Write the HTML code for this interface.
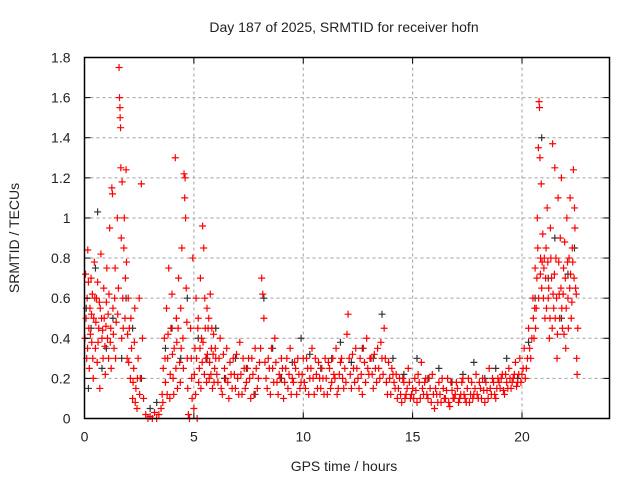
<!DOCTYPE html>
<html><head><meta charset="utf-8"><style>
body{margin:0;background:#fff}
svg text{font-family:"Liberation Sans",sans-serif;font-size:14px;fill:#222}
</style></head><body>
<svg id="chart" width="640" height="480" xmlns="http://www.w3.org/2000/svg">
<rect width="640" height="480" fill="#fff"/>
<g id="grid"></g>
<g id="black"></g>
<g id="red"></g>
<rect x="84.5" y="57.5" width="525" height="361" fill="none" stroke="#000" stroke-width="1.5"/>
<g id="ticks"></g>
<text x="344" y="32" text-anchor="middle">Day 187 of 2025, SRMTID for receiver hofn</text>
<text x="344" y="471" text-anchor="middle">GPS time / hours</text>
<text transform="translate(19,238) rotate(-90)" text-anchor="middle">SRMTID / TECUs</text>
</svg>
<script>
const xTicks=[0,5,10,15,20];
const yTicks=[0,0.2,0.4,0.6,0.8,1,1.2,1.4,1.6,1.8];
const yTickLabels=["0","0.2","0.4","0.6","0.8","1","1.2","1.4","1.6","1.8"];
const redPoints=[
[0.05,0.72],[0.1,0.3],[0.12,0.6],[0.15,0.84],[0.2,0.45],[0.22,0.25],[0.25,0.55],[0.3,0.7],[0.33,0.38],[0.36,0.62],[0.4,0.2],[0.42,0.5],[0.45,0.78],[0.5,0.35],[0.55,0.6],[0.58,0.28],[0.6,0.68],[0.65,0.45],[0.7,0.15],[0.72,0.55],[0.75,0.82],[0.8,0.4],[0.85,0.3],[0.88,0.65],[0.9,0.5],[0.95,0.22],[1.0,0.58],[1.02,0.75],[1.05,0.4],[1.1,0.3],[1.12,0.62],[1.15,0.95],[1.2,0.45],[1.25,1.15],[1.28,1.12],[1.3,0.55],[1.35,0.35],[1.4,0.75],[1.45,0.48],[1.5,1.0],[1.55,0.65],[1.58,1.75],[1.6,1.6],[1.62,1.55],[1.63,1.5],[1.65,1.45],[1.66,1.25],[1.68,0.9],[1.7,0.4],[1.72,1.18],[1.75,0.6],[1.8,0.85],[1.82,1.0],[1.85,0.5],[1.9,1.24],[1.92,0.78],[1.95,0.3],[2.0,0.6],[2.05,0.45],[2.1,0.2],[2.15,0.35],[2.2,0.1],[2.25,0.25],[2.3,0.55],[2.35,0.15],[2.4,0.05],[2.45,0.3],[2.5,0.6],[2.55,0.2],[2.6,1.17],[2.65,0.4],[2.7,0.1],[2.8,0.02],[2.9,0.0],[3.0,0.01],[3.1,0.0],[3.2,0.03],[3.3,0.0],[3.4,0.02],[3.5,0.05],[3.55,0.12],[3.6,0.25],[3.65,0.4],[3.7,0.18],[3.75,0.55],[3.8,0.3],[3.85,0.75],[3.9,0.1],[3.95,0.45],[4.0,0.62],[4.05,0.2],[4.1,0.35],[4.15,1.3],[4.2,0.5],[4.25,0.15],[4.3,0.7],[4.35,0.28],[4.4,0.55],[4.45,0.85],[4.5,0.4],[4.55,1.22],[4.58,1.1],[4.6,1.2],[4.62,1.0],[4.65,0.65],[4.7,0.3],[4.75,0.02],[4.8,0.0],[4.85,0.45],[4.9,0.2],[4.95,0.8],[5.0,0.05],[5.05,0.35],[5.1,0.6],[5.15,0.0],[5.2,0.5],[5.25,0.25],[5.3,0.7],[5.35,0.4],[5.4,0.96],[5.45,0.85],[5.5,0.6],[5.55,0.3],[5.6,0.55],[5.65,0.45],[5.7,0.2],[5.75,0.62],[5.8,0.35],[5.85,0.15],[5.9,0.42],[5.95,0.25],[6.0,0.3],[6.1,0.18],[6.2,0.4],[6.3,0.12],[6.4,0.25],[6.5,0.35],[6.6,0.1],[6.7,0.22],[6.8,0.3],[6.9,0.15],[7.0,0.2],[7.1,0.38],[7.2,0.12],[7.3,0.25],[7.4,0.18],[7.5,0.3],[7.6,0.1],[7.7,0.22],[7.8,0.35],[7.9,0.15],[8.0,0.28],[8.1,0.7],[8.15,0.62],[8.2,0.5],[8.3,0.2],[8.4,0.3],[8.5,0.12],[8.6,0.25],[8.7,0.4],[8.8,0.18],[8.9,0.22],[9.0,0.3],[9.1,0.1],[9.2,0.25],[9.3,0.15],[9.4,0.35],[9.5,0.2],[9.6,0.28],[9.7,0.12],[9.8,0.22],[9.9,0.18],[10.0,0.3],[10.1,0.15],[10.2,0.25],[10.3,0.2],[10.4,0.35],[10.5,0.12],[10.6,0.22],[10.7,0.28],[10.8,0.15],[10.9,0.2],[11.0,0.3],[11.1,0.12],[11.2,0.25],[11.3,0.18],[11.4,0.22],[11.5,0.35],[11.6,0.15],[11.7,0.28],[11.8,0.2],[11.9,0.25],[12.0,0.42],[12.05,0.52],[12.1,0.3],[12.2,0.15],[12.3,0.25],[12.4,0.35],[12.5,0.2],[12.6,0.3],[12.7,0.12],[12.8,0.28],[12.9,0.4],[13.0,0.22],[13.1,0.3],[13.2,0.15],[13.3,0.25],[13.4,0.35],[13.5,0.2],[13.6,0.3],[13.7,0.45],[13.8,0.18],[13.9,0.28],[14.0,0.12],[14.1,0.22],[14.2,0.15],[14.3,0.1],[14.4,0.2],[14.5,0.08],[14.6,0.18],[14.7,0.12],[14.8,0.25],[14.9,0.1],[15.0,0.15],[15.1,0.2],[15.2,0.08],[15.3,0.18],[15.4,0.28],[15.5,0.12],[15.6,0.2],[15.7,0.1],[15.8,0.15],[15.9,0.22],[16.0,0.05],[16.1,0.12],[16.2,0.18],[16.3,0.08],[16.4,0.15],[16.5,0.1],[16.6,0.2],[16.7,0.06],[16.8,0.14],[16.9,0.1],[17.0,0.18],[17.1,0.08],[17.2,0.12],[17.3,0.2],[17.4,0.1],[17.5,0.15],[17.6,0.08],[17.7,0.18],[17.8,0.12],[17.9,0.22],[18.0,0.1],[18.1,0.15],[18.2,0.2],[18.3,0.08],[18.4,0.14],[18.5,0.25],[18.6,0.12],[18.7,0.18],[18.8,0.1],[18.9,0.2],[19.0,0.15],[19.1,0.22],[19.2,0.12],[19.3,0.18],[19.4,0.25],[19.5,0.15],[19.6,0.2],[19.7,0.28],[19.8,0.18],[19.9,0.3],[20.0,0.22],[20.1,0.35],[20.2,0.25],[20.3,0.45],[20.4,0.3],[20.5,0.6],[20.55,0.4],[20.6,0.75],[20.65,0.55],[20.7,1.0],[20.72,0.85],[20.75,1.35],[20.78,1.58],[20.8,1.55],[20.82,1.3],[20.85,0.8],[20.88,1.17],[20.9,0.65],[20.95,0.92],[21.0,0.75],[21.05,0.5],[21.1,0.85],[21.15,1.05],[21.2,0.6],[21.25,0.4],[21.3,0.95],[21.35,0.7],[21.4,1.37],[21.45,0.55],[21.5,1.25],[21.55,0.8],[21.6,0.3],[21.65,1.1],[21.7,0.62],[21.75,0.9],[21.8,1.2],[21.85,0.45],[21.9,0.75],[21.95,0.88],[22.0,0.35],[22.05,1.0],[22.1,0.6],[22.15,0.8],[22.2,1.1],[22.25,0.5],[22.3,0.85],[22.35,1.24],[22.4,1.05],[22.42,0.95],[22.45,0.65],[22.5,0.3],[22.55,0.45]
];
const redPoints2=[
[0.02,0.4],[0.07,0.5],[0.14,0.35],[0.18,0.68],[0.27,0.42],[0.32,0.52],[0.38,0.3],[0.47,0.6],[0.52,0.48],[0.62,0.38],[0.68,0.58],[0.78,0.5],[0.83,0.44],[0.93,0.36],[0.98,0.46],[1.08,0.52],[1.18,0.38],[1.22,0.25],[1.32,0.42],[1.38,0.6],[1.42,0.3],[1.52,0.52],[1.77,0.45],[1.87,0.7],[1.97,0.42],[2.02,0.28],[2.12,0.5],[2.22,0.18],[2.28,0.38],[2.32,0.08],[2.42,0.2],[2.52,0.12],[3.58,0.08],[3.68,0.3],[3.78,0.12],[3.82,0.42],[3.92,0.22],[4.02,0.32],[4.08,0.12],[4.18,0.25],[4.22,0.38],[4.28,0.45],[4.38,0.18],[4.42,0.35],[4.52,0.25],[4.68,0.48],[4.72,0.15],[4.88,0.3],[4.92,0.1],[5.02,0.22],[5.08,0.12],[5.12,0.3],[5.18,0.45],[5.22,0.18],[5.28,0.35],[5.32,0.15],[5.38,0.28],[5.42,0.38],[5.48,0.22],[5.52,0.45],[5.58,0.18],[5.62,0.32],[5.68,0.5],[5.72,0.28],[5.78,0.22],[5.82,0.45],[5.88,0.32],[5.92,0.18],[5.98,0.35],[6.05,0.22],[6.15,0.3],[6.25,0.15],[6.35,0.32],[6.45,0.2],[6.55,0.18],[6.65,0.28],[6.75,0.15],[6.85,0.22],[6.95,0.32],[7.05,0.12],[7.15,0.22],[7.25,0.3],[7.35,0.15],[7.45,0.25],[7.55,0.2],[7.65,0.3],[7.75,0.12],[7.85,0.25],[7.95,0.2],[8.05,0.35],[8.25,0.28],[8.35,0.15],[8.45,0.25],[8.55,0.35],[8.65,0.18],[8.75,0.28],[8.85,0.12],[8.95,0.2],[9.05,0.25],[9.15,0.18],[9.25,0.3],[9.35,0.22],[9.45,0.12],[9.55,0.18],[9.65,0.25],[9.75,0.3],[9.85,0.15],[9.95,0.22],[10.05,0.18],[10.15,0.3],[10.25,0.12],[10.35,0.25],[10.45,0.2],[10.55,0.3],[10.65,0.15],[10.75,0.2],[10.85,0.25],[10.95,0.12],[11.05,0.2],[11.15,0.28],[11.25,0.15],[11.35,0.3],[11.45,0.2],[11.55,0.12],[11.65,0.22],[11.75,0.3],[11.85,0.15],[11.95,0.18],[12.15,0.22],[12.25,0.32],[12.35,0.18],[12.45,0.25],[12.55,0.15],[12.65,0.22],[12.75,0.35],[12.85,0.18],[12.95,0.25],[13.05,0.3],[13.15,0.22],[13.25,0.32],[13.35,0.18],[13.45,0.25],[13.55,0.38],[13.65,0.22],[13.75,0.3],[13.85,0.12],[13.95,0.2],[14.05,0.25],[14.15,0.18],[14.25,0.22],[14.35,0.15],[14.45,0.12],[14.55,0.2],[14.65,0.1],[14.75,0.15],[14.85,0.18],[14.95,0.12],[15.05,0.1],[15.15,0.14],[15.25,0.22],[15.35,0.1],[15.45,0.15],[15.55,0.18],[15.65,0.12],[15.75,0.2],[15.85,0.08],[15.95,0.12],[16.05,0.15],[16.15,0.08],[16.25,0.12],[16.35,0.2],[16.45,0.1],[16.55,0.14],[16.65,0.08],[16.75,0.18],[16.85,0.1],[16.95,0.12],[17.05,0.15],[17.15,0.1],[17.25,0.18],[17.35,0.12],[17.45,0.08],[17.55,0.2],[17.65,0.12],[17.75,0.1],[17.85,0.15],[17.95,0.12],[18.05,0.18],[18.15,0.1],[18.25,0.14],[18.35,0.18],[18.45,0.1],[18.55,0.15],[18.65,0.2],[18.75,0.12],[18.85,0.15],[18.95,0.18],[19.05,0.2],[19.15,0.14],[19.25,0.22],[19.35,0.15],[19.45,0.2],[19.55,0.18],[19.65,0.22],[19.75,0.16],[19.85,0.22],[19.95,0.18],[20.05,0.25],[20.15,0.2],[20.25,0.3],[20.35,0.35],[20.45,0.4],[20.52,0.5],[20.58,0.55],[20.62,0.45],[20.68,0.7],[20.76,0.6],[20.84,0.72],[20.92,0.78],[20.98,0.6],[21.02,0.8],[21.08,0.7],[21.12,0.55],[21.18,0.78],[21.22,0.65],[21.28,0.5],[21.32,0.8],[21.38,0.45],[21.42,0.62],[21.48,0.72],[21.52,0.5],[21.58,0.6],[21.62,0.42],[21.68,0.78],[21.72,0.5],[21.78,0.65],[21.82,0.55],[21.88,0.62],[21.92,0.42],[21.98,0.7],[22.02,0.55],[22.08,0.78],[22.12,0.45],[22.18,0.65],[22.22,0.72],[22.28,0.58],[22.32,0.78],[22.38,0.7],[22.48,0.62],[22.52,0.22]
];
const blackPoints=[
[0.08,0.55],[0.18,0.15],[0.3,0.45],[0.5,0.75],[0.6,1.03],[0.8,0.25],[1.0,0.35],[1.3,0.5],[1.7,0.3],[1.9,0.6],[2.2,0.45],[2.6,0.2],[3.0,0.05],[3.3,0.08],[3.7,0.35],[4.0,0.45],[4.4,0.3],[4.7,0.6],[5.2,0.4],[5.6,0.3],[6.0,0.45],[6.4,0.2],[6.9,0.3],[7.4,0.25],[7.8,0.12],[8.2,0.6],[8.6,0.35],[9.0,0.2],[9.5,0.28],[9.9,0.4],[10.3,0.32],[10.8,0.25],[11.3,0.3],[11.7,0.38],[12.2,0.28],[12.7,0.35],[13.2,0.3],[13.6,0.52],[14.1,0.3],[14.6,0.22],[15.2,0.3],[15.7,0.2],[16.2,0.25],[16.8,0.18],[17.3,0.22],[17.8,0.28],[18.3,0.2],[18.8,0.25],[19.3,0.3],[19.8,0.2],[20.3,0.38],[20.6,0.6],[20.9,1.4],[21.2,0.7],[21.5,0.9],[21.8,0.5],[22.1,0.72],[22.4,0.85]
];
const NS='http://www.w3.org/2000/svg';
const x0=84.5,x1=609.5,y0=418.5,y1=57.5;
const xs=t=>x0+(t/24)*(x1-x0);
const ys=v=>y0-(v/1.8)*(y0-y1);
const grid=document.getElementById('grid'),ticks=document.getElementById('ticks');
function mk(tag,a,p){const e=document.createElementNS(NS,tag);for(const k in a)e.setAttribute(k,a[k]);p.appendChild(e);return e;}
xTicks.forEach(t=>{const x=xs(t);
 if(t>0){const g=mk('line',{x1:x,x2:x,y1:y0,y2:y1,stroke:'#a0a0a0','stroke-dasharray':'3,3'},grid);
 
 }
 mk('line',{x1:x,x2:x,y1:y0,y2:y0-6,stroke:'#000'},ticks);mk('line',{x1:x,x2:x,y1:y1,y2:y1+6,stroke:'#000'},ticks);
 const l=mk('text',{x:x,y:y0+23,'text-anchor':'middle'},ticks);l.textContent=t;
 
 });
yTicks.forEach((v,i)=>{const y=ys(v);
 if(v>0&&v<1.8){const g=mk('line',{x1:x0,x2:x1,y1:y,y2:y,stroke:'#a0a0a0','stroke-dasharray':'3,3'},grid);
 
 }
 mk('line',{x1:x0,x2:x0+6,y1:y,y2:y,stroke:'#000'},ticks);mk('line',{x1:x1,x2:x1-6,y1:y,y2:y,stroke:'#000'},ticks);
 const l=mk('text',{x:x0-14,y:y+5,'text-anchor':'end'},ticks);l.textContent=yTickLabels[i];
 
 });
function plus(pts,col,g,name){pts.forEach(p=>{const x=xs(p[0]),y=ys(p[1]);
 const e=mk('path',{d:`M${x-3.5},${y}H${x+3.5}M${x},${y-3.5}V${y+3.5}`,stroke:col,'stroke-width':1.2,fill:'none'},g);
 
 });}
plus(blackPoints,'#333',document.getElementById('black'),'black-point');
plus(redPoints,'#f00',document.getElementById('red'),'red-point');
plus(redPoints2,'#f00',document.getElementById('red'),'red-point');
</script>
</body></html>
